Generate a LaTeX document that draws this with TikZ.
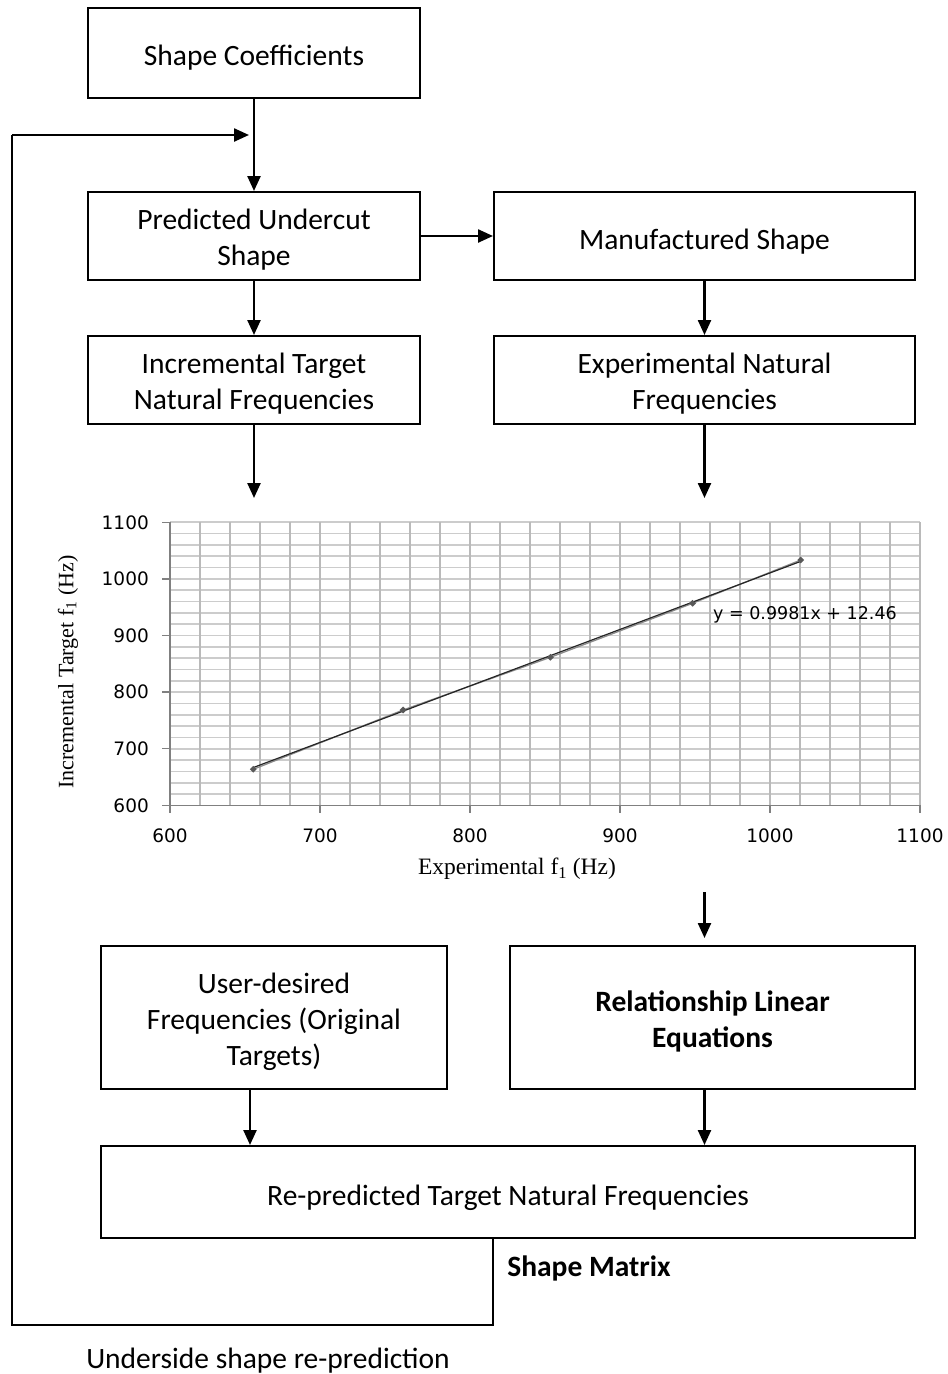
\documentclass[tikz,border=0pt]{standalone}
\usepackage{fontspec}
\setmainfont{Carlito}
\newfontfamily\tickfont{DejaVu Sans}
\newfontfamily\axfont{Liberation Serif}
\usetikzlibrary{arrows.meta,shapes.geometric}
\newcommand\btext[2][4.5pt]{\raisebox{-#1}[\height][\depth]{\begin{tabular}{@{}c@{}}#2\end{tabular}}}
\begin{document}
\begin{tikzpicture}[x=1pt,y=-1pt,
  box/.style={draw, line width=2pt, rectangle,
    font=\fontsize{29.5}{36}\selectfont, inner sep=0pt},
  arr/.style={line width=2.4pt, -{Triangle[length=15pt,width=13pt]}},
  loopline/.style={line width=2pt},
  gridv/.style={draw=black!27, line width=2pt},
  gridh/.style={draw=black!20, line width=1.7pt},
  axisline/.style={draw=black!50, line width=1.3pt},
  ticklab/.style={font=\tickfont\fontsize{18.5}{20}\selectfont, inner sep=0pt},
  axtitle/.style={font=\axfont\fontsize{22}{24}\selectfont, inner sep=0pt},
  plainlab/.style={font=\fontsize{29.5}{36}\selectfont, inner sep=0pt},
  datapt/.style={diamond, fill=black!65, inner sep=0pt, minimum size=7pt}]
\useasboundingbox (0,0) rectangle (948,1374);

% ---------- boxes ----------
\node[box, minimum width=332pt, minimum height=90pt] (sc) at (254,53) {\btext[5pt]{Shape Coefficients}};
\node[box, minimum width=332pt, minimum height=88pt] (pus) at (254,236) {\btext{Predicted Undercut\\Shape}};
\node[box, minimum width=421pt, minimum height=88pt] (ms) at (704.5,236) {\btext[6pt]{Manufactured Shape}};
\node[box, minimum width=332pt, minimum height=88pt] (itnf) at (254,380) {\btext{Incremental Target\\Natural Frequencies}};
\node[box, minimum width=421pt, minimum height=88pt] (enf) at (704.5,380) {\btext{Experimental Natural\\Frequencies}};
\node[box, minimum width=346pt, minimum height=143pt] (ud) at (274,1017.5) {\btext{User-desired\\Frequencies (Original\\Targets)}};
\node[box, minimum width=405pt, minimum height=143pt] (rle) at (712.5,1017.5) {\bfseries\btext{Relationship Linear\\Equations}};
\node[box, minimum width=814pt, minimum height=92pt] (rp) at (508,1192) {\btext[6.5pt]{Re-predicted Target Natural Frequencies}};

\node[plainlab, font=\fontsize{29.5}{36}\selectfont\bfseries] (smx) at (589,1268) {Shape Matrix};
\node[plainlab] (usr) at (268,1361) {Underside shape re-prediction};

% ---------- connectors ----------
\coordinate (fbA) at (12,1325);
\coordinate (fbB) at (12,135);
\coordinate (fbEnd) at (249,135);
\coordinate (itEnd) at (254,498);
\coordinate (exEnd) at (704.5,498);
\coordinate (chA) at (704.5,892);
\coordinate (chB) at (704.5,938);

\draw[arr] (sc.south) -- (pus.north);
\draw[loopline] (rp.south -| ms.west) |- (fbA) -- (fbB);
\draw[arr] (fbB) -- (fbEnd);
\draw[arr] (pus.east) -- (ms.west);
\draw[arr] (pus.south) -- (itnf.north);
\draw[arr] (ms.south) -- (enf.north);
\draw[arr] (itnf.south) -- (itEnd);
\draw[arr] (enf.south) -- (exEnd);
\draw[arr] (chA) -- (chB);
\draw[arr] ([xshift=-24pt]ud.south) -- ([xshift=-24pt]ud.south |- rp.north);
\draw[arr] ([xshift=-8pt]rle.south) -- ([xshift=-8pt]rle.south |- rp.north);

% ---------- chart ----------
\begin{scope}[shift={(170,805.3)}]
\begin{scope}[x=1.5pt,y=0.566pt]
  \foreach \j in {20,40,...,500} \draw[gridh] (0,\j) -- (500,\j);
  \foreach \i in {20,40,...,500} \draw[gridv] (\i,0) -- (\i,500);
  \draw[axisline] (0,0) -- (0,500);
  \draw[axisline] (0,0) -- (500,0);
  \foreach \j in {0,100,...,500} \draw[axisline] (0,\j) -- (-5.5,\j);
  \foreach \i in {0,100,...,500} \draw[axisline] (\i,0) -- (\i,-14);
  % data series
  \draw[black!45, line width=1.3pt] (55.5,63.6) -- (155.4,168.4) -- (253.6,261.5) -- (348.4,356.9) -- (420.5,433.4);
  % trend line
  \draw[black!85, line width=1.2pt] (55.5,66.7) -- (420.5,431.0);
  \node[datapt] (p1) at (55.5,63.6) {};
  \node[datapt] (p2) at (155.4,168.4) {};
  \node[datapt] (p3) at (253.6,261.5) {};
  \node[datapt] (p4) at (348.4,356.9) {};
  \node[datapt] (p5) at (420.5,433.4) {};
\end{scope}
\end{scope}

\foreach \v [count=\k from 0] in {600,700,800,900,1000,1100} {
  \node[ticklab, anchor=east] (yt\k) at (149,{805.3-56.6*\k}) {\v};
  \node[ticklab] (xt\k) at ({170+150*\k},836) {\v};
}
\node[ticklab, font=\tickfont\fontsize{17.5}{20}\selectfont] (eq) at (805,615) {y = 0.9981x + 12.46};
\node[axtitle, rotate=90] (ylab) at (68,672) {Incremental Target f\textsubscript{1} (Hz)};
\node[axtitle, font=\axfont\fontsize{23.5}{25}\selectfont] (xlab) at (517,869) {Experimental f\textsubscript{1} (Hz)};
\end{tikzpicture}
\end{document}
